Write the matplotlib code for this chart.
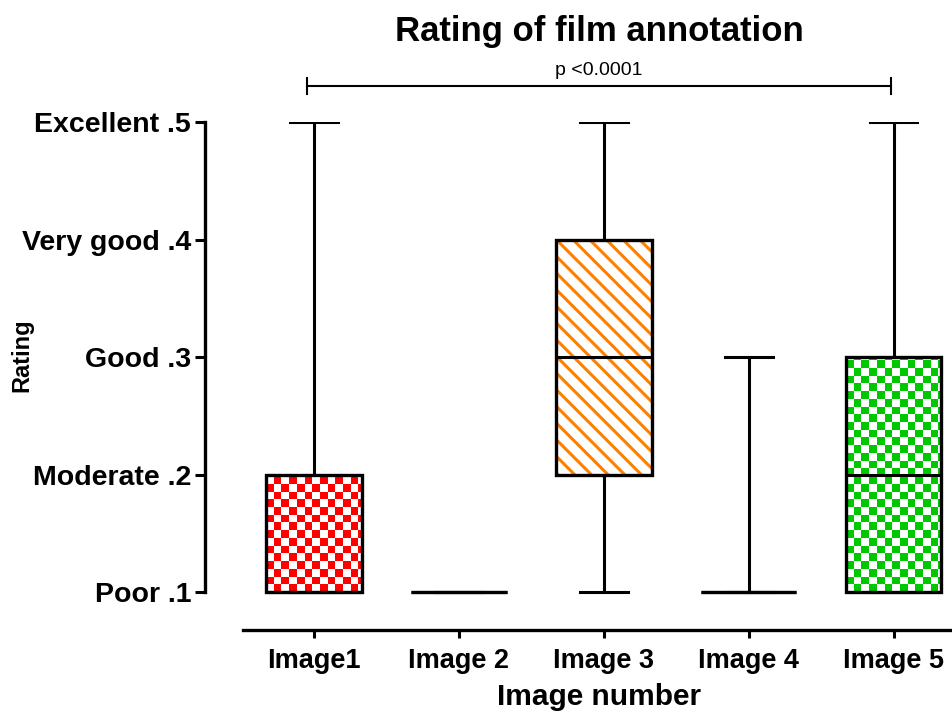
import numpy as np
import matplotlib
matplotlib.use("Agg")
import matplotlib.pyplot as plt
from matplotlib.patches import Rectangle
from matplotlib.colors import ListedColormap

plt.rcParams['font.family'] = ['Liberation Sans', 'DejaVu Sans']
plt.rcParams['hatch.linewidth'] = 2.2

# ---------------- data ----------------
images = ["Image1", "Image 2", "Image 3", "Image 4", "Image 5"]
whis_lo = [0.1, 0.1, 0.1, 0.1, 0.1]
q1 = [0.1, 0.1, 0.2, 0.1, 0.1]
medians = [0.1, 0.1, 0.3, 0.1, 0.2]
q3 = [0.2, 0.1, 0.4, 0.1, 0.3]
whis_hi = [0.5, 0.1, 0.5, 0.3, 0.5]
rating_ticks = [0.1, 0.2, 0.3, 0.4, 0.5]
rating_labels = ["Poor .1", "Moderate .2", "Good .3", "Very good .4", "Excellent .5"]
p_text = "p <0.0001"

fig = plt.figure(figsize=(9.53, 7.2), dpi=100)
W, H = 953, 720
ax = fig.add_axes([205 / W, (H - 630) / H, (950 - 205) / W, (630 - 122) / H])

stats = []
for i in range(len(images)):
    stats.append({'whislo': whis_lo[i], 'q1': q1[i], 'med': medians[i],
                  'q3': q3[i], 'whishi': whis_hi[i], 'label': images[i]})

pos = np.arange(1, len(images) + 1)
bw = 0.66
lw = 2.4
bp = ax.bxp(stats, positions=pos, widths=bw, showfliers=False, patch_artist=True,
            boxprops=dict(facecolor='white', edgecolor='black', linewidth=lw),
            whiskerprops=dict(color='black', linewidth=2.2),
            capprops=dict(color='black', linewidth=2.2),
            medianprops=dict(color='black', linewidth=2.2),
            capwidths=0.33)
for b in bp['boxes']:
    b.set_zorder(4)
    b.set_facecolor('none')

# fills
sq_x = 0.053
sq_y = 0.00655


def checker(i, color):
    x0, x1 = pos[i] - bw / 2, pos[i] + bw / 2
    y0, y1 = q1[i], q3[i]
    nx = int(np.ceil((x1 - x0) / sq_x))
    ny = int(np.ceil((y1 - y0) / sq_y))
    yy, xx = np.indices((ny, nx))
    grid = ((xx + yy) % 2).astype(float)
    cmap = ListedColormap(['white', color])
    im = ax.imshow(grid, cmap=cmap, origin='lower', aspect='auto', interpolation='nearest',
                   extent=(x0, x0 + nx * sq_x, y0, y0 + ny * sq_y), zorder=2)
    clip = Rectangle((x0, y0), x1 - x0, y1 - y0, transform=ax.transData)
    im.set_clip_path(clip)


checker(0, '#FF0000')
checker(4, '#00C800')
ax.add_patch(Rectangle((pos[2] - bw / 2, q1[2]), bw, q3[2] - q1[2], facecolor='white',
                       edgecolor='#FF8000', hatch='\\\\', linewidth=0, zorder=2))

ax.set_xlim(0.247, 5.39)
ax.set_ylim(0.0677, 0.5)

for s in ['top', 'right']:
    ax.spines[s].set_visible(False)
ax.spines['left'].set_bounds(0.1, 0.5)
ax.spines['bottom'].set_bounds(0.51, 5.39)
ax.spines['left'].set_linewidth(2.4)
ax.spines['bottom'].set_linewidth(2.4)

ax.set_yticks(rating_ticks)
ax.set_yticklabels(rating_labels)
ax.set_xticks(pos)
ax.set_xticklabels(images)
ax.tick_params(axis='y', length=7, width=2.2, pad=3, labelsize=20.5)
ax.tick_params(axis='x', length=6, width=2.2, pad=7, labelsize=19.5)
for t in ax.get_xticklabels() + ax.get_yticklabels():
    t.set_fontweight('bold')

ax.set_xlabel("Image number", fontsize=21.5, fontweight='bold')
ax.xaxis.set_label_coords(0.529, -0.105)
ax.set_ylabel("Rating", fontsize=17, fontweight='bold')
ax.yaxis.set_label_coords(-0.231, 0.54)
fig.text(599 / W, 1 - 32 / H, "Rating of film annotation", ha='center', va='center',
         fontsize=25, fontweight='bold')

# significance bracket
by = 0.5306
ax.plot([0.95, 4.98], [by, by], color='black', lw=1.5, clip_on=False)
ax.plot([0.95, 0.95], [by - 0.007, by + 0.007], color='black', lw=1.5, clip_on=False)
ax.plot([4.98, 4.98], [by - 0.007, by + 0.007], color='black', lw=1.5, clip_on=False)
ax.text(2.965, by + 0.006, p_text, ha='center', va='bottom', fontsize=14, clip_on=False)

fig.savefig("out.png", dpi=100)
